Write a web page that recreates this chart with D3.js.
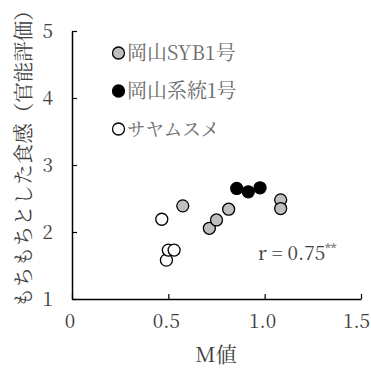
<!DOCTYPE html>
<html><head><meta charset="utf-8">
<script src="https://cdn.jsdelivr.net/npm/d3@7"></script>
<style>body{margin:0;background:#fff}</style>
</head><body>
<svg id="c" width="371" height="369"></svg>
<script>
const seriesNames = ["岡山SYB1号", "岡山系統1号", "サヤムスメ"];
const seriesFill = ["#bfbfbf", "#000000", "#ffffff"];
const sybX = [0.575, 0.713, 0.75, 0.813, 1.083, 1.083];
const sybY = [2.39, 2.055, 2.18, 2.34, 2.48, 2.35];
const keitoX = [0.855, 0.915, 0.976];
const keitoY = [2.65, 2.60, 2.66];
const sayaX = [0.466, 0.49, 0.50, 0.53];
const sayaY = [2.19, 1.58, 1.73, 1.73];
const xTicks = [0, 0.5, 1.0, 1.5];
const xTickLabels = ["0", "0.5", "1.0", "1.5"];
const yTicks = [1, 2, 3, 4, 5];
const xTitle = "M値";
const yTitle = "もちもちとした食感（官能評価）";
const rText = "r = 0.75";

const font = "Noto Serif CJK JP, Liberation Serif, serif";
const svg = d3.select("#c");
const x = d3.scaleLinear().domain([0, 1.5]).range([72, 361]);
const y = d3.scaleLinear().domain([1, 5]).range([299, 31]);

const xAxis = svg.append("g").attr("transform", "translate(0,299)")
  .call(d3.axisBottom(x).tickValues(xTicks).tickSizeInner(-5).tickSizeOuter(0)
    .tickFormat((d, i) => xTickLabels[i]));
xAxis.attr("font-family", font).attr("font-size", 19);
xAxis.select(".domain").attr("stroke", "#000").attr("stroke-width", 1.5);
xAxis.selectAll(".tick line").attr("stroke", "#000").attr("stroke-width", 1.2);
xAxis.selectAll(".tick text").attr("y", 16).attr("dy", "0.71em")
  .attr("x", (d, i) => i === xTicks.length - 1 ? -5 : -2.5).attr("fill", "#404040");

const yAxis = svg.append("g").attr("transform", "translate(72,0)")
  .call(d3.axisLeft(y).tickValues(yTicks).tickSizeInner(-5).tickSizeOuter(0).tickFormat(d3.format("d")));
yAxis.attr("font-family", font).attr("font-size", 19);
yAxis.select(".domain").attr("stroke", "#000").attr("stroke-width", 1.5);
yAxis.selectAll(".tick line").attr("stroke", "#000").attr("stroke-width", 1.2);
yAxis.selectAll(".tick text").attr("x", -19).attr("fill", "#404040");

svg.append("text").attr("x", 216).attr("y", 362).attr("text-anchor", "middle")
  .attr("font-family", font).attr("font-size", 21).attr("fill", "#404040").text(xTitle);
svg.append("text").attr("transform", "translate(31,154) rotate(-90)").attr("text-anchor", "middle")
  .attr("font-family", font).attr("font-size", 20.5).attr("fill", "#404040").text(yTitle);

const series = [
  {xs: sybX, ys: sybY, fill: seriesFill[0]},
  {xs: keitoX, ys: keitoY, fill: seriesFill[1]},
  {xs: sayaX, ys: sayaY, fill: seriesFill[2]}
];
series.forEach(s => {
  svg.append("g").selectAll("circle").data(s.xs.map((v, i) => [v, s.ys[i]])).join("circle")
    .attr("cx", d => x(d[0])).attr("cy", d => y(d[1])).attr("r", 6)
    .attr("fill", s.fill).attr("stroke", "#000").attr("stroke-width", 1.3);
});

const legY = [53, 91, 129];
const legSize = [20, 20, 18.5];
seriesNames.forEach((n, i) => {
  svg.append("circle").attr("cx", 118.5).attr("cy", legY[i]).attr("r", 6)
    .attr("fill", seriesFill[i]).attr("stroke", "#000").attr("stroke-width", 1.3);
  svg.append("text").attr("x", 127).attr("y", legY[i]).attr("dy", "0.36em")
    .attr("font-family", font).attr("font-size", legSize[i]).attr("fill", "#6b6b6b").text(n);
});

const rt = svg.append("text").attr("x", 258).attr("y", 260)
  .attr("font-family", font).attr("font-size", 19).attr("fill", "#404040");
rt.append("tspan").text(rText);
rt.append("tspan").attr("dy", -7).attr("font-size", 12).text("**");
</script>
</body></html>
